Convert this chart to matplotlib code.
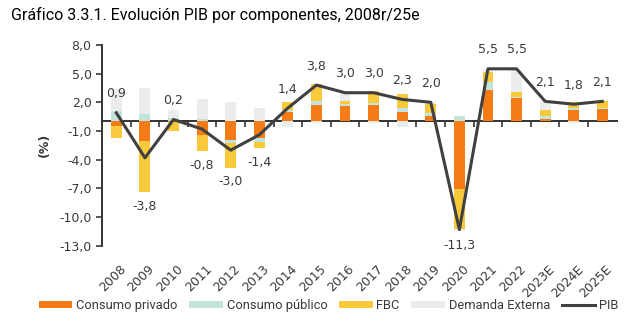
import numpy as np
import matplotlib
matplotlib.use("Agg")
import matplotlib.pyplot as plt

# Contribuciones al crecimiento del PIB por componente (pp)
years = ["2008", "2009", "2010", "2011", "2012", "2013", "2014", "2015", "2016",
         "2017", "2018", "2019", "2020", "2021", "2022", "2023E", "2024E", "2025E"]
consumo_privado = [-0.45, -2.0, -0.1, -1.4, -1.9, -1.75, 1.0, 1.75, 1.6,
                   1.75, 1.0, 0.55, -7.1, 3.3, 2.5, 0.3, 1.15, 1.3]
consumo_publico = [1.1, 0.75, 0.4, 0.3, -0.35, -0.35, 0.15, 0.35, 0.25,
                   0.2, 0.4, 0.3, 0.6, 0.8, 0.1, 0.3, 0.25, 0.15]
fbc = [-1.3, -5.4, -0.9, -1.7, -2.6, -0.7, 0.85, 1.85, 0.3,
       1.2, 1.5, 0.95, -4.1, 1.05, 0.5, 0.6, 0.6, 0.65]
demanda_externa = [2.3, 2.7, 0.8, 2.0, 2.0, 1.4, -0.6, -0.15, 0.85,
                   -0.15, -0.6, 0.2, -0.3, 0.35, 2.3, 0.9, -0.2, 0.0]
pib = [0.9, -3.8, 0.2, -0.8, -3.0, -1.4, 1.4, 3.8, 3.0,
       3.0, 2.3, 2.0, -11.3, 5.5, 5.5, 2.1, 1.8, 2.1]

series = [
    ("Consumo privado", consumo_privado, "#F47B16"),
    ("Consumo público", consumo_publico, "#C3E4DD"),
    ("FBC", fbc, "#F8C93A"),
    ("Demanda Externa", demanda_externa, "#EBECEE"),
]

txt = "#3a3a3a"
cond = ["Roboto", "DejaVu Sans"]

fig = plt.figure(figsize=(6.26, 3.30), dpi=100)
ax = fig.add_axes([0.163, 0.255, 0.822, 0.609])

x = np.arange(len(years))
pos_base = np.zeros(len(years))
neg_base = np.zeros(len(years))
handles = []
for name, vals, col in series:
    v = np.array(vals)
    bottom = np.where(v >= 0, pos_base, neg_base)
    b = ax.bar(x, v, 0.38, bottom=bottom, color=col, label=name, zorder=2)
    handles.append(b)
    pos_base += np.where(v >= 0, v, 0)
    neg_base += np.where(v < 0, v, 0)

line, = ax.plot(x, pib, color="#404040", lw=2.2, label="PIB", zorder=3)
handles.append(line)

# etiquetas del PIB
for i, p in enumerate(pib):
    s = f"{p:.1f}".replace(".", ",")
    if p >= 0:
        ax.annotate(s, (i, p), xytext=(0, 19), textcoords="offset pixels",
                    ha="center", va="center", fontsize=9, color=txt)
    else:
        low = min(p, neg_base[i])
        ax.annotate(s, (i, low), xytext=(0, -14), textcoords="offset pixels",
                    ha="center", va="center", fontsize=9, color=txt)

ax.set_xlim(-0.5, len(years) - 0.5)
ax.set_ylim(-13, 8)
yt = np.arange(-13, 8.1, 3)
ax.set_yticks(yt)
ax.set_yticklabels([f"{t:.1f}".replace(".", ",") for t in yt])
ax.tick_params(axis="y", labelsize=9, colors=txt, length=4, width=1.2)
ax.set_ylabel("(%)", fontsize=9, fontweight="bold", color=txt, labelpad=6)

ax.set_xticks(x + 0.1)
ax.set_xticklabels(years, rotation=45, ha="right", rotation_mode="anchor",
                   fontsize=9, color=txt)
ax.tick_params(axis="x", length=0, pad=12)

for side in ["top", "right", "bottom"]:
    ax.spines[side].set_visible(False)
ax.spines["left"].set_color("#333333")
ax.spines["left"].set_linewidth(1.4)

# eje en cero con marcas entre categorías
zero = ax.secondary_xaxis(0, transform=ax.transData)
zero.set_xticks(x[:-1] + 0.5)
zero.set_xticklabels([])
zero.tick_params(length=4, width=1.2, color="#333333")
zero.spines["bottom"].set_color("#333333")
zero.spines["bottom"].set_linewidth(1.4)

leg = fig.legend(handles=handles, loc="center", bbox_to_anchor=(0.525, 0.075),
                 ncol=5, frameon=False, handlelength=2.6, handleheight=0.45,
                 columnspacing=0.9, handletextpad=0.3,
                 prop={"family": cond, "size": 9.3})
for t in leg.get_texts():
    t.set_color(txt)

fig.text(0.018, 0.955, "Gráfico 3.3.1. Evolución PIB por componentes, 2008r/25e",
         fontsize=11.5, family=cond, color="#000000",
         va="center", ha="left")

fig.savefig("out.png", dpi=100)
